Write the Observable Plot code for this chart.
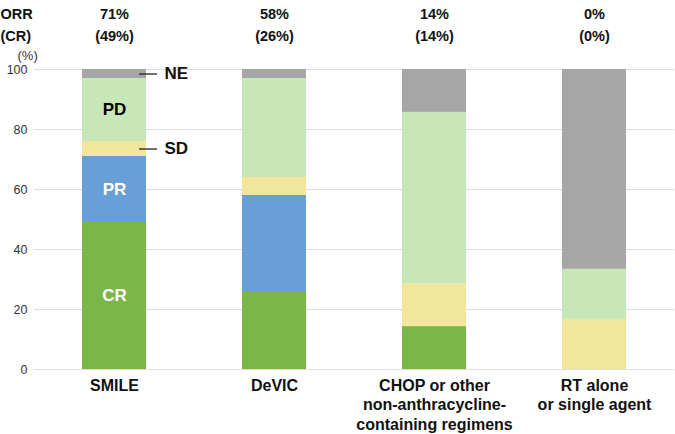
<!DOCTYPE html>
<html>
<head>
<meta charset="utf-8">
<script src="https://cdn.jsdelivr.net/npm/d3@7"></script>
<script src="https://cdn.jsdelivr.net/npm/@observablehq/plot@0.6"></script>
<style>
  html, body { margin: 0; padding: 0; background: #fff; }
  #chart { width: 675px; height: 434px; }
</style>
</head>
<body>
<div id="chart"></div>
<script>
// ---- data ----
const regimens = ["SMILE", "DeVIC", "CHOP", "RT"];
const regimenLabels = ["SMILE", "DeVIC", "CHOP or other\nnon-anthracycline-\ncontaining regimens", "RT alone\nor single agent"];
const responses = ["CR", "PR", "SD", "PD", "NE"];
const responseColors = ["#7ab648", "#689fd6", "#f1e69b", "#c8e7b8", "#a6a6a6"];
const CR = [49, 26, 14.3, 0];
const PR = [22, 32, 0, 0];
const SD = [5, 6, 14.3, 16.7];
const PD = [21, 33, 57.1, 16.7];
const NE = [3, 3, 14.3, 66.6];
const orrLabels = ["71%", "58%", "14%", "0%"];
const crLabels = ["(49%)", "(26%)", "(14%)", "(0%)"];
const yTicks = [0, 20, 40, 60, 80, 100];

// long table built from arrays
const series = {CR, PR, SD, PD, NE};
const rows = [];
regimens.forEach((r, i) => {
  responses.forEach(k => rows.push({regimen: r, response: k, value: series[k][i]}));
});
const smileRows = rows.filter(d => d.regimen === "SMILE");
const insideColor = {CR: "white", PR: "white", PD: "black"};
const isOutside = d => d.response === "SD" || d.response === "NE";

const font = "'Liberation Sans', Arial, sans-serif";

const chart = Plot.plot({
  width: 675,
  height: 434,
  marginTop: 69,
  marginBottom: 65,
  marginLeft: 34,
  marginRight: 1,
  style: {fontFamily: font, background: "white", overflow: "visible"},
  x: {domain: regimens, paddingInner: 0.6, paddingOuter: 0.3, axis: null},
  y: {domain: [0, 100], axis: null},
  color: {domain: responses, range: responseColors},
  marks: [
    Plot.gridY(yTicks, {stroke: "#dedede", strokeOpacity: 1, strokeWidth: 1}),
    Plot.axisY(yTicks, {tickSize: 0, tickPadding: 7, fontSize: 12.5, fill: "#333", label: null}),
    Plot.barY(rows, Plot.stackY({x: "regimen", y: "value", fill: "response", order: responses})),
    // labels inside the SMILE bar
    Plot.text(smileRows, Plot.stackY({
      x: "regimen", y: "value",
      text: d => insideColor[d.response] ? d.response : "",
      fill: d => insideColor[d.response] || "none", fontSize: 17, fontWeight: "bold"
    })),
    // leader lines for SD and NE
    Plot.tickY(smileRows, Plot.stackY({
      x: "regimen", y: "value",
      stroke: d => isOutside(d) ? "#222" : "none", strokeWidth: 1.3, dx: 57, insetRight: 46
    })),
    // labels to the right of the SMILE bar
    Plot.text(smileRows, Plot.stackY({
      x: "regimen", y: "value",
      text: d => isOutside(d) ? d.response : "",
      textAnchor: "start", dx: 50, fontSize: 17, fontWeight: "bold", fill: "#111"
    })),
    // x labels
    Plot.text(regimens, {
      x: d => d, text: (d, i) => regimenLabels[i], frameAnchor: "bottom",
      lineAnchor: "top", dy: 8, lineHeight: 1.2, fontSize: 16, fontWeight: "bold", fill: "#111"
    }),
    // ORR / CR values
    Plot.text(regimens, {x: d => d, text: (d, i) => orrLabels[i], frameAnchor: "top", dy: -61, fontSize: 14.5, fontWeight: "bold", fill: "#111"}),
    Plot.text(regimens, {x: d => d, text: (d, i) => crLabels[i], frameAnchor: "top", dy: -39, fontSize: 14.5, fontWeight: "bold", fill: "#111"}),
    Plot.text(["ORR"], {frameAnchor: "top-left", dx: -34, dy: -61, textAnchor: "start", fontSize: 14.5, fontWeight: "bold", fill: "#111"}),
    Plot.text(["(CR)"], {frameAnchor: "top-left", dx: -34, dy: -39, textAnchor: "start", fontSize: 14.5, fontWeight: "bold", fill: "#111"}),
    Plot.text(["(%)"], {frameAnchor: "top-left", dx: -17, dy: -19, fontSize: 13, fill: "#333"})
  ]
});
document.getElementById("chart").appendChild(chart);
</script>
</body>
</html>
